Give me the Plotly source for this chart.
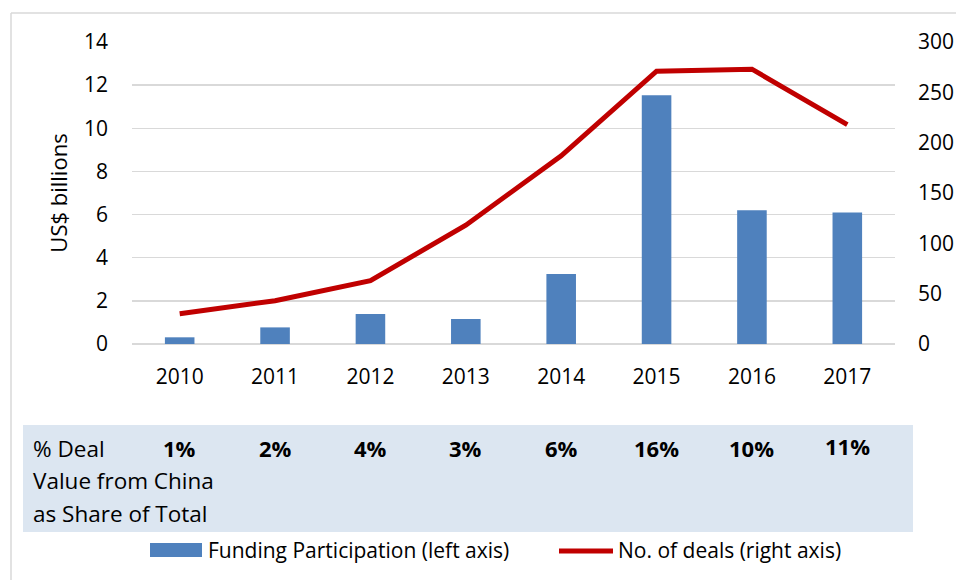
import plotly.graph_objects as go

years = ["2010", "2011", "2012", "2013", "2014", "2015", "2016", "2017"]
funding_bn = [0.31, 0.77, 1.39, 1.16, 3.25, 11.53, 6.20, 6.10]
num_deals = [30, 43, 63, 118, 187, 271, 273, 218]
share_pct = ["1%", "2%", "4%", "3%", "6%", "16%", "10%", "11%"]

OFF = 0  # page body margin removed via post_script
W, H = 956, 580
# plot area in screenshot pixels: x 132..895, y 42..344
L, T = 132 - OFF, 42 - OFF
R = W - (895 - OFF)
B = H - (344 - OFF)
PW, PH = W - L - R, H - T - B
FONT = "Open Sans"
TXT = "#000000"


def px(xs):
    # screenshot x -> paper x
    return (xs - OFF - L) / PW


def py(ys):
    # screenshot y -> paper y
    return (T + PH - (ys - OFF)) / PH


fig = go.Figure()
fig.add_trace(go.Bar(x=years, y=funding_bn, marker=dict(color="#4F81BD", line=dict(width=0)),
                     name="Funding Participation (left axis)", yaxis="y"))
fig.add_trace(go.Scatter(x=years, y=num_deals, mode="lines",
                         line=dict(color="#C00000", width=5),
                         name="No. of deals (right axis)", yaxis="y2"))

shapes = []
annotations = []
# chart border (cropped)
shapes.append(dict(type="line", xref="paper", yref="paper", x0=px(11), x1=px(970), y0=py(13), y1=py(13),
                   line=dict(color="#D9D9D9", width=1.5)))
shapes.append(dict(type="line", xref="paper", yref="paper", x0=px(11), x1=px(11), y0=py(13), y1=py(600),
                   line=dict(color="#D9D9D9", width=1.5)))
# table band
shapes.append(dict(type="rect", xref="paper", yref="paper", x0=px(23), x1=px(913), y0=py(532), y1=py(425),
                   fillcolor="#DCE6F1", line=dict(width=0), layer="below"))
for i, t in enumerate(["% Deal", "Value from China", "as Share of Total"]):
    annotations.append(dict(xref="paper", yref="paper", x=px(31), y=py(448 + 32.5 * i), text=t,
                            showarrow=False, xanchor="left", yanchor="middle",
                            font=dict(family=FONT, size=22.5, color=TXT)))
for i, s in enumerate(share_pct):
    annotations.append(dict(xref="x", yref="paper", x=i, y=py(448 if i < 7 else 446), text="<b>" + s + "</b>",
                            showarrow=False, xanchor="center", yanchor="middle",
                            font=dict(family=FONT, size=22, color=TXT)))
# legend
shapes.append(dict(type="rect", xref="paper", yref="paper", x0=px(150), x1=px(202), y0=py(557), y1=py(543),
                   fillcolor="#4F81BD", line=dict(width=0)))
annotations.append(dict(xref="paper", yref="paper", x=px(206), y=py(550), text="Funding Participation (left axis)",
                        showarrow=False, xanchor="left", yanchor="middle",
                        font=dict(family=FONT, size=21, color=TXT)))
shapes.append(dict(type="line", xref="paper", yref="paper", x0=px(559), x1=px(613), y0=py(551), y1=py(551),
                   line=dict(color="#C00000", width=5)))
annotations.append(dict(xref="paper", yref="paper", x=px(616), y=py(550), text="No. of deals (right axis)",
                        showarrow=False, xanchor="left", yanchor="middle",
                        font=dict(family=FONT, size=21, color=TXT)))

fig.update_layout(
    width=W, height=H, autosize=False,
    margin=dict(l=L, r=R, t=T, b=B, pad=0, autoexpand=False),
    paper_bgcolor="white", plot_bgcolor="white",
    showlegend=False,
    bargap=0.69,
    font=dict(family=FONT, size=20, color=TXT),
    xaxis=dict(type="category", range=[-0.5, len(years) - 0.5], autorange=False, automargin=False,
               showgrid=False, showline=False, zeroline=False,
               ticks="", ticklabelstandoff=18, tickfont=dict(family=FONT, size=21, color=TXT)),
    yaxis=dict(range=[0, 14], dtick=2, showgrid=True, gridcolor="#D9D9D9", gridwidth=1.5, automargin=False,
               zeroline=True, zerolinecolor="#D9D9D9", zerolinewidth=1.5, showline=False,
               ticks="", ticklabelstandoff=23, tickfont=dict(family=FONT, size=21, color=TXT),
               title=dict(text="US$ billions", standoff=10, font=dict(family=FONT, size=22, color=TXT))),
    yaxis2=dict(range=[0, 300], dtick=50, overlaying="y", side="right", showgrid=False, automargin=False,
                zeroline=False, showline=False, ticks="", ticklabelstandoff=22,
                tickfont=dict(family=FONT, size=21, color=TXT)),
    shapes=shapes,
    annotations=annotations,
)

fig.write_html("out.html",
               config={"displayModeBar": False, "staticPlot": True},
               post_script="document.body.style.margin='0';document.body.style.overflow='hidden';")
